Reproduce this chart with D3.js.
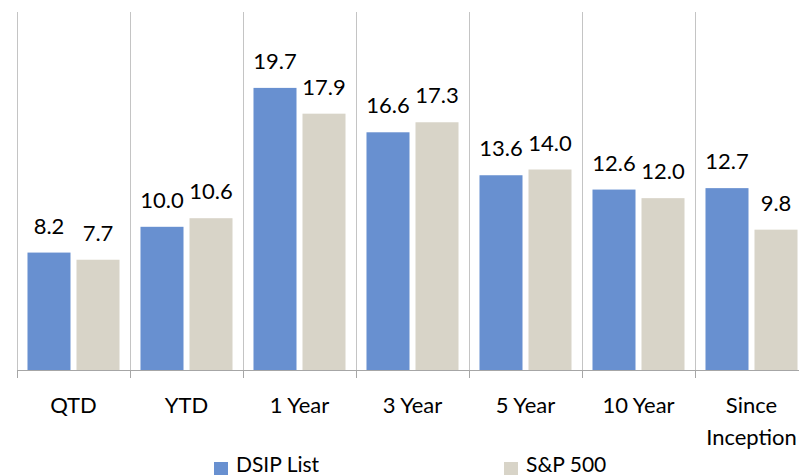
<!DOCTYPE html>
<html>
<head>
<meta charset="utf-8">
<script src="https://cdn.jsdelivr.net/npm/d3@7"></script>
<style>
  body { margin: 0; background: #fff; }
  text { font-family: Lato, "Open Sans", sans-serif; fill: #000; }
</style>
</head>
<body>
<div id="chart"></div>
<script>
// =========== Data
var categories = ["QTD", "YTD", "1 Year", "3 Year", "5 Year", "10 Year", "Since Inception"];
var seriesNames = ["DSIP List", "S&P 500"];
var dsipValues = [8.2, 10.0, 19.7, 16.6, 13.6, 12.6, 12.7];
var spValues = [7.7, 10.6, 17.9, 17.3, 14.0, 12.0, 9.8];
var colors = ["#6890D0", "#D8D4C8"];

// =========== Size
var svgWidth = 799;
var svgHeight = 476;

var svg = d3.select("#chart").append("svg")
    .attr("width", svgWidth)
    .attr("height", svgHeight);

// =========== Scales
var xScale = d3.scaleBand()
    .domain(categories)
    .range([17, 17 + 113 * categories.length])
    .padding(0);

var xInner = d3.scaleBand()
    .domain(seriesNames)
    .range([0, xScale.bandwidth()])
    .paddingInner(0.1224)
    .paddingOuter(0.214);

var yScale = d3.scaleLinear()
    .domain([0, 25])
    .range([370, 12]);

// =========== Gridlines (category separators)
var bounds = categories.map(c => xScale(c));
svg.append("g").selectAll("line")
    .data(bounds)
    .enter()
    .append("line")
    .attr("x1", d => d + 0.5)
    .attr("x2", d => d + 0.5)
    .attr("y1", yScale(25))
    .attr("y2", 378)
    .attr("stroke", "#C4C4C4")
    .attr("stroke-width", 1);

// =========== Bars
var rows = categories.map((c, i) => ({ cat: c, vals: [dsipValues[i], spValues[i]] }));

var groups = svg.selectAll("g.cat")
    .data(rows)
    .enter()
    .append("g")
    .attr("class", "cat")
    .attr("transform", d => `translate(${xScale(d.cat)},0)`);

groups.selectAll("rect")
    .data(d => d.vals.map((v, j) => ({ name: seriesNames[j], value: v, idx: j })))
    .enter()
    .append("rect")
    .attr("x", d => xInner(d.name))
    .attr("y", d => yScale(d.value))
    .attr("width", xInner.bandwidth())
    .attr("height", d => yScale(0) - yScale(d.value))
    .attr("fill", d => colors[d.idx]);

groups.selectAll("text.val")
    .data(d => d.vals.map((v, j) => ({ name: seriesNames[j], value: v })))
    .enter()
    .append("text")
    .attr("class", "val")
    .attr("x", d => xInner(d.name) + xInner.bandwidth() / 2)
    .attr("y", d => yScale(d.value) - 19)
    .attr("text-anchor", "middle")
    .attr("font-size", "22px")
    .text(d => d.value.toFixed(1));

// =========== X axis line
svg.append("line")
    .attr("x1", 17)
    .attr("x2", svgWidth)
    .attr("y1", yScale(0) + 0.5)
    .attr("y2", yScale(0) + 0.5)
    .attr("stroke", "#A6A6A6")
    .attr("stroke-width", 1);

svg.append("g").selectAll("line")
    .data(bounds)
    .enter()
    .append("line")
    .attr("x1", d => d + 0.5)
    .attr("x2", d => d + 0.5)
    .attr("y1", yScale(0))
    .attr("y2", 378)
    .attr("stroke", "#A6A6A6");

// =========== Category labels (wrap two-word long label)
svg.append("g").selectAll("text")
    .data(categories)
    .enter()
    .append("text")
    .attr("x", d => xScale(d) + xScale.bandwidth() / 2)
    .attr("y", 413)
    .attr("text-anchor", "middle")
    .attr("font-size", "22px")
    .each(function(d) {
        var parts = d === "Since Inception" ? d.split(" ") : [d];
        var t = d3.select(this);
        parts.forEach((p, i) => {
            t.append("tspan")
                .attr("x", xScale(d) + xScale.bandwidth() / 2)
                .attr("dy", i === 0 ? 0 : 32)
                .text(p);
        });
    });

// =========== Legend
var legendX = [214, 504];
var legend = svg.append("g").selectAll("g")
    .data(seriesNames)
    .enter()
    .append("g")
    .attr("transform", (d, i) => `translate(${legendX[i]},462)`);

legend.append("rect")
    .attr("width", 14)
    .attr("height", 13)
    .attr("fill", (d, i) => colors[i]);

legend.append("text")
    .attr("x", 22)
    .attr("y", 10)
    .attr("font-size", "21px")
    .text(d => d);
</script>
</body>
</html>
